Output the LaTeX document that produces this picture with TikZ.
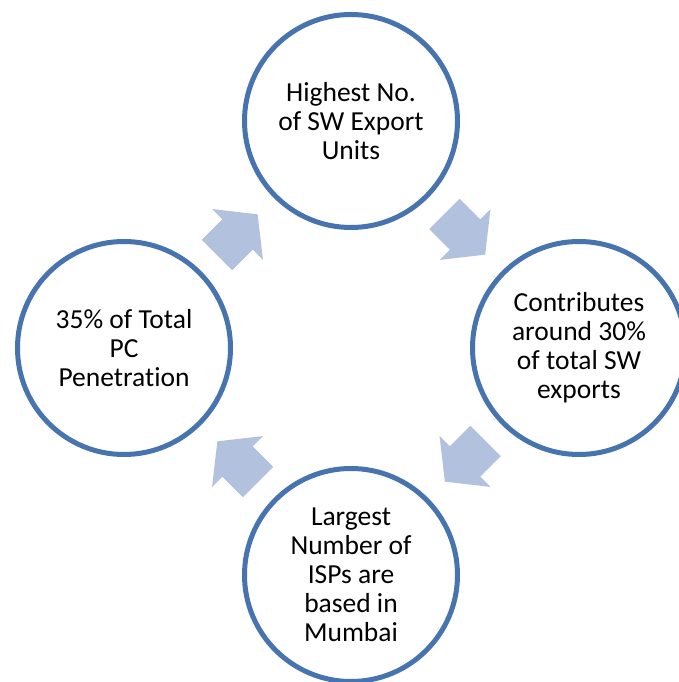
\documentclass[tikz,border=0pt]{standalone}
\usepackage{fontspec}
\setmainfont[Ligatures={NoCommon}]{Carlito}
\usetikzlibrary{calc,positioning}
\definecolor{ringblue}{RGB}{71,116,175}
\definecolor{arrowblue}{RGB}{178,194,222}

\begin{document}
\begin{tikzpicture}[x=1pt, y=1pt,
  ring/.style = {circle, draw=ringblue, line width=5pt, fill=white, minimum size=213pt,
    inner sep=0pt, align=center, font=\fontsize{27.5}{29}\selectfont},
  cyclearrow/.style = {fill=arrowblue, draw=none}]
  \useasboundingbox (0,0) rectangle (678,682);

  \node[ring] (units) at (351,561) {Highest No.\\of SW Export\\Units};
  \node[ring] (exports) at (579,334) {Contributes\\around 30\%\\of total SW\\exports};
  \node[ring] (isps) at (351,107) {Largest\\Number of\\ISPs are\\based in\\Mumbai};
  \node[ring] (pc) at (124,334) {35\% of Total\\PC\\Penetration};

  \foreach \from/\to/\ang in {pc/units/45, units/exports/-45, exports/isps/-135, isps/pc/135} {
    \coordinate (\from-\to) at ($(\from)!0.5!(\to)$);
    \fill[cyclearrow, shift={(\from-\to)}, rotate=\ang]
      (-29,-21.5) -- (0,-21.5) -- (0,-36) -- (28.5,0) -- (0,36) -- (0,21.5) -- (-29,21.5) -- cycle;
  }
\end{tikzpicture}
\end{document}
